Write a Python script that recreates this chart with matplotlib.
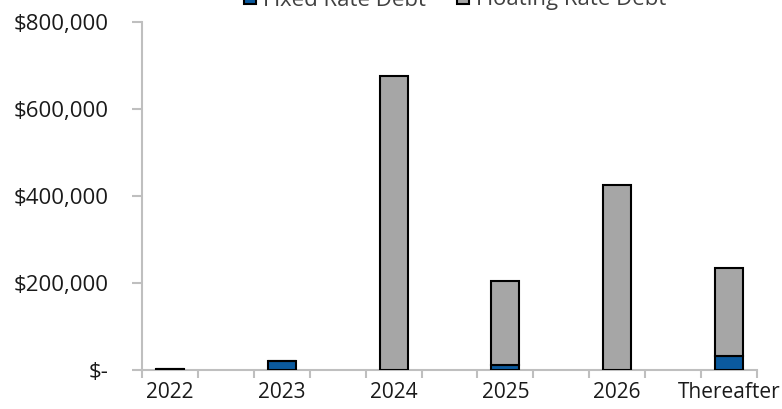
import numpy as np
import matplotlib.pyplot as plt
from matplotlib.ticker import FuncFormatter

categories = ["2022", "2023", "2024", "2025", "2026", "Thereafter"]
fixed_rate = [1500, 21400, 0, 11500, 0, 32000]
floating_rate = [500, 0, 676000, 193500, 424600, 203000]

def money(v, pos):
    if v == 0:
        return "$-"
    return "${:,.0f}".format(v)

def main():
    plt.rcParams["font.family"] = ["Open Sans", "DejaVu Sans"]
    fig = plt.figure(figsize=(7.82, 4.09), dpi=100)
    ax = fig.add_axes([142 / 782, 1 - 370 / 409, 615 / 782, 348 / 409])

    # every year sits on every other slot, like the original Excel chart
    x = np.arange(len(categories)) * 2
    blue = "#0B5A9E"
    gray = "#A6A6A6"
    ax.bar(x, fixed_rate, width=0.5, color=blue, edgecolor="black", linewidth=1.5,
           label="Fixed Rate Debt", zorder=3)
    ax.bar(x, floating_rate, width=0.5, bottom=fixed_rate, color=gray, edgecolor="black",
           linewidth=1.5, label="Floating Rate Debt", zorder=3)

    n_slots = 2 * len(categories) - 1
    ax.set_xlim(-0.5, n_slots - 0.5)
    ax.set_ylim(0, 800000)
    ax.set_yticks(np.arange(0, 800001, 200000))
    ax.yaxis.set_major_formatter(FuncFormatter(money))

    ax.set_xticks(x)
    ax.set_xticklabels(categories)
    ax.set_xticks(np.arange(-0.5, n_slots), minor=True)
    ax.tick_params(axis="x", which="major", length=0, pad=9, labelsize=15,
                   labelcolor="#1a1a1a")
    ax.tick_params(axis="x", which="minor", length=6, width=1.5, color="#BFBFBF")
    ax.tick_params(axis="y", length=7, width=1.5, color="#BFBFBF", pad=17, labelsize=16,
                   labelcolor="#1a1a1a")

    for s in ["top", "right"]:
        ax.spines[s].set_visible(False)
    for s in ["left", "bottom"]:
        ax.spines[s].set_color("#BFBFBF")
        ax.spines[s].set_linewidth(1.5)

    leg = fig.legend(loc="center", bbox_to_anchor=(0.582, 1.0), ncol=2, frameon=False,
                     fontsize=16, handlelength=0.55, handleheight=0.55, handletextpad=0.3,
                     columnspacing=1.4)
    for t in leg.get_texts():
        t.set_color("#404040")

    fig.savefig("out.png", dpi=100)
    plt.close()

if __name__ == "__main__":
    main()
